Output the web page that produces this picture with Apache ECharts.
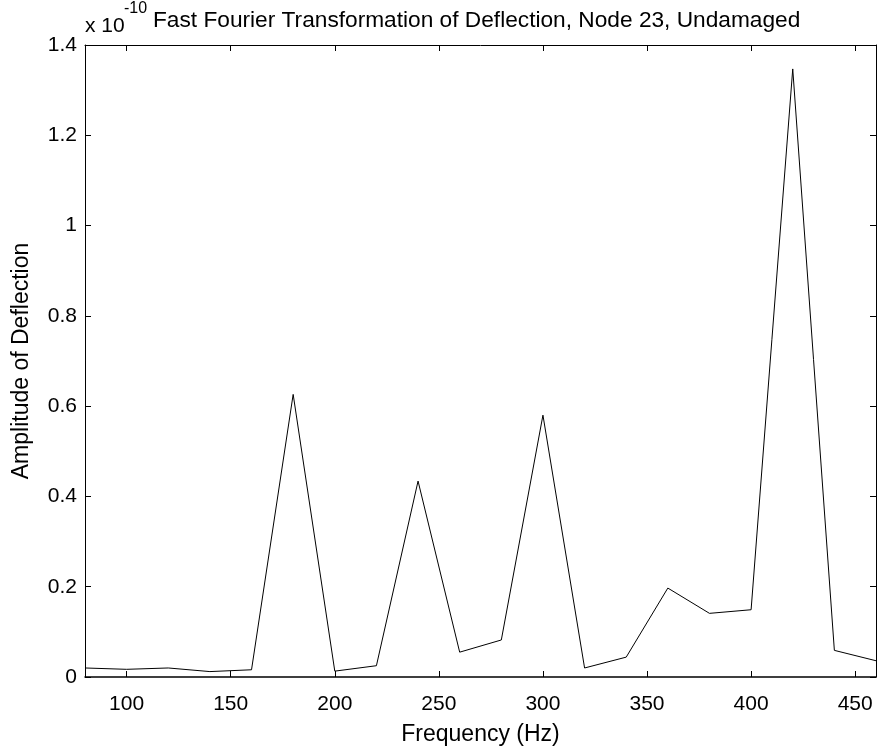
<!DOCTYPE html>
<html>
<head>
<meta charset="utf-8">
<script src="https://cdn.jsdelivr.net/npm/echarts@6/dist/echarts.min.js"></script>
<style>
html,body{margin:0;padding:0;background:#fff;}
#chart{width:879px;height:751px;}
</style>
</head>
<body>
<div id="chart"></div>
<script>
var frequency = [80,100,120,140,160,180,200,220,240,260,280,300,320,340,360,380,400,420,440,460];
var amplitude = [0.020,0.017,0.020,0.012,0.016,0.626,0.013,0.025,0.434,0.055,0.082,0.580,0.020,0.044,0.197,0.141,0.149,1.347,0.059,0.036];
var xTicks = [100,150,200,250,300,350,400,450];
var titleText = 'Fast Fourier Transformation of Deflection, Node 23, Undamaged';
var scalePrefix = 'x 10';
var scaleExp = '-10';
var xName = 'Frequency (Hz)';
var yName = 'Amplitude of Deflection';

var FONT = 'Liberation Sans, Arial, sans-serif';
var chart = echarts.init(document.getElementById('chart'), null, {renderer:'canvas'});
var data = frequency.map(function(f,i){return [f, amplitude[i]];});

var tickStyle = {show:true, inside:true, length:6, lineStyle:{color:'#000', width:1}};
chart.setOption({
  backgroundColor:'#fff',
  animation:false,
  title:[
    {text:scalePrefix, left:85, top:16, padding:0, textStyle:{fontFamily:FONT, fontSize:21, fontWeight:'normal', color:'#000'}},
    {text:scaleExp, left:124, top:1, padding:0, textStyle:{fontFamily:FONT, fontSize:16, fontWeight:'normal', color:'#000'}},
    {text:titleText, left:153, top:9, padding:0, textStyle:{fontFamily:FONT, fontSize:22.7, fontWeight:'normal', color:'#000'}}
  ],
  grid:{left:85, right:3, top:45, bottom:67, containLabel:false},
  xAxis:[
    {type:'value', min:80, max:460, position:'bottom',
     axisLine:{show:true, onZero:false, lineStyle:{color:'#000', width:1.5}},
     axisTick:Object.assign({customValues:xTicks}, tickStyle),
     axisLabel:{customValues:xTicks, color:'#000', fontFamily:FONT, fontSize:21, margin:17},
     splitLine:{show:false},
     name:xName, nameLocation:'middle', nameGap:46,
     nameTextStyle:{color:'#000', fontFamily:FONT, fontSize:23}},
    {type:'value', min:80, max:460, position:'top',
     axisLine:{show:true, onZero:false, lineStyle:{color:'#000', width:1}},
     axisTick:Object.assign({customValues:xTicks}, tickStyle),
     axisLabel:{show:false}, splitLine:{show:false}}
  ],
  yAxis:[
    {type:'value', min:0, max:1.4, interval:0.2, position:'left',
     axisLine:{show:true, onZero:false, lineStyle:{color:'#000', width:1}},
     axisTick:tickStyle,
     axisLabel:{color:'#000', fontFamily:FONT, fontSize:21, margin:8,
       formatter:function(v){return String(+v.toFixed(1));}},
     splitLine:{show:false},
     name:yName, nameLocation:'middle', nameGap:52,
     nameTextStyle:{color:'#000', fontFamily:FONT, fontSize:23}},
    {type:'value', min:0, max:1.4, interval:0.2, position:'right',
     axisLine:{show:true, onZero:false, lineStyle:{color:'#000', width:1}},
     axisTick:tickStyle,
     axisLabel:{show:false}, splitLine:{show:false}}
  ],
  series:[{
    type:'line', data:data, xAxisIndex:0, yAxisIndex:0,
    showSymbol:false, symbol:'none',
    lineStyle:{color:'#000', width:1}
  }]
});
</script>
</body>
</html>
